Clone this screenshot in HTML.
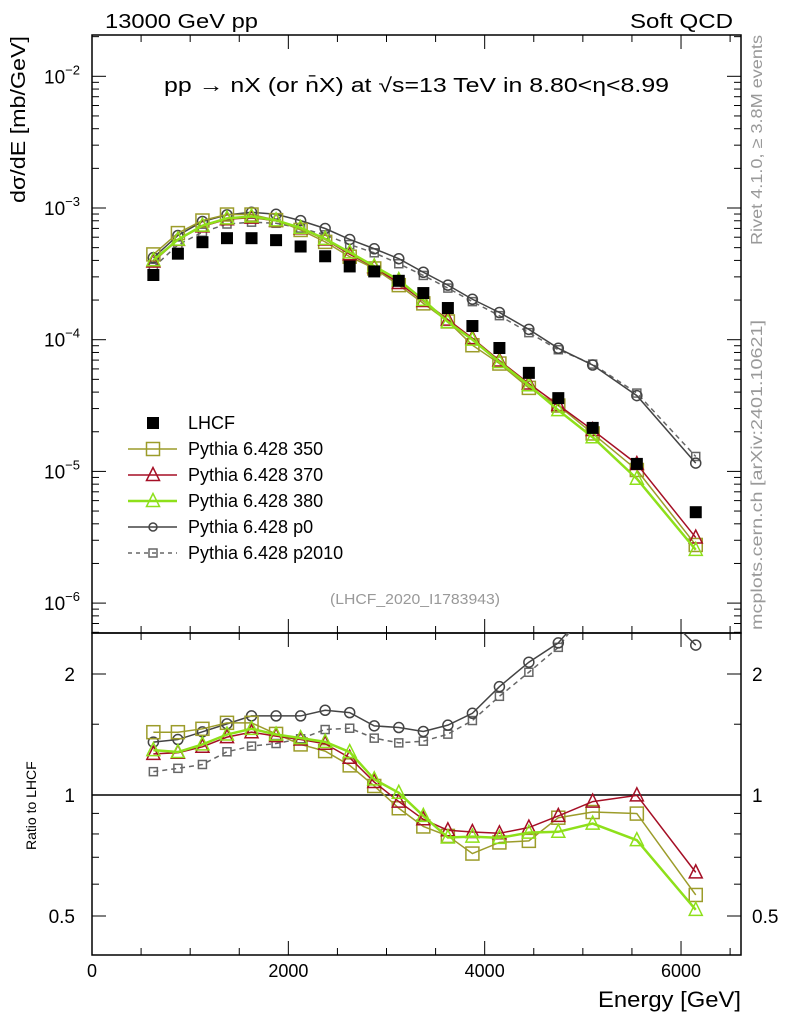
<!DOCTYPE html>
<html><head><meta charset="utf-8"><style>
html,body{margin:0;padding:0;background:#fff}
svg{display:block;font-family:"Liberation Sans",sans-serif}
</style></head><body>
<svg id="c" width="786" height="1024" viewBox="0 0 786 1024" xmlns="http://www.w3.org/2000/svg">
<defs>
<clipPath id="cm"><rect x="92" y="35" width="649" height="598"/></clipPath>
<clipPath id="cr"><rect x="92" y="633" width="649" height="322"/></clipPath>
</defs>
<text x="105" y="28" font-size="20" textLength="153" lengthAdjust="spacingAndGlyphs">13000 GeV pp</text>
<text x="630" y="28" font-size="20" textLength="103" lengthAdjust="spacingAndGlyphs">Soft QCD</text>
<text x="164" y="92" font-size="20" textLength="505" lengthAdjust="spacingAndGlyphs">pp → nX (or n̄X) at √s=13 TeV in 8.80&lt;η&lt;8.99</text>
<text transform="translate(762,245) rotate(-90)" font-size="16" fill="#999" textLength="210" lengthAdjust="spacingAndGlyphs">Rivet 4.1.0, ≥ 3.8M events</text>
<text transform="translate(762,630) rotate(-90)" font-size="16" fill="#999" textLength="310" lengthAdjust="spacingAndGlyphs">mcplots.cern.ch [arXiv:2401.10621]</text>
<text transform="translate(25,203) rotate(-90)" font-size="20" textLength="167" lengthAdjust="spacingAndGlyphs">dσ/dE [mb/GeV]</text>
<text transform="translate(36,850) rotate(-90)" font-size="14">Ratio to LHCF</text>
<text x="598" y="1007" font-size="22" textLength="143" lengthAdjust="spacingAndGlyphs">Energy [GeV]</text>
<text x="330" y="604" font-size="15" fill="#999" textLength="170" lengthAdjust="spacingAndGlyphs">(LHCF_2020_I1783943)</text>
<g id="g"></g>
</svg>
<script>
const energies=[625,875,1125,1375,1625,1875,2125,2375,2625,2875,3125,3375,3625,3875,4150,4450,4750,5100,5550,6150];
const lhcf=[3.1e-4,4.5e-4,5.5e-4,5.9e-4,5.9e-4,5.7e-4,5.1e-4,4.3e-4,3.6e-4,3.3e-4,2.8e-4,2.26e-4,1.74e-4,1.27e-4,8.65e-5,5.6e-5,3.6e-5,2.14e-5,1.14e-5,4.9e-6];
const ratio350=[1.433,1.433,1.461,1.512,1.512,1.419,1.336,1.286,1.185,1.053,0.927,0.835,0.791,0.715,0.762,0.769,0.878,0.907,0.899,0.564];
const ratio370=[1.266,1.274,1.318,1.393,1.433,1.401,1.374,1.341,1.238,1.077,0.963,0.87,0.817,0.809,0.803,0.83,0.887,0.963,0.998,0.642];
const ratio380=[1.293,1.279,1.336,1.414,1.461,1.414,1.385,1.356,1.279,1.094,1.013,0.887,0.784,0.788,0.782,0.806,0.81,0.849,0.772,0.518];
const ratioP0=[1.354,1.374,1.436,1.503,1.573,1.573,1.573,1.625,1.603,1.486,1.472,1.439,1.492,1.597,1.86,2.14,2.39,3.0,3.3,2.36];
const ratioP2010=[1.143,1.165,1.191,1.281,1.323,1.343,1.38,1.455,1.466,1.385,1.348,1.361,1.417,1.532,1.76,2.02,2.33,3.05,3.45,2.65];
const xTicks=[0,2000,4000,6000];
const yMainTicks=[-2,-3,-4,-5,-6];
const yRatioTicks=[2,1,0.5];

const NS='http://www.w3.org/2000/svg';
const G=document.getElementById('g');
const X0=92,X1=741,MT=35,MB=633,RB=955;
const xs=e=>X0+e*0.09817;
const ys=v=>208-(Math.log10(v)+3)*131.7;
const yr=r=>795-Math.log2(r)*121;
function el(t,a,p){const e=document.createElementNS(NS,t);for(const k in a)e.setAttribute(k,a[k]);(p||G).appendChild(e);return e;}

let f=el('rect',{x:X0,y:MT,width:X1-X0,height:MB-MT,fill:'none',stroke:'#000','stroke-width':1.5});


f=el('rect',{x:X0,y:MB,width:X1-X0,height:RB-MB,fill:'none',stroke:'#000','stroke-width':1.5});


for(let e=0;e<=6500;e+=500){const x=xs(e),L=e%2000===0?14:7;
 el('line',{x1:x,x2:x,y1:MT,y2:MT+L,stroke:'#000'});el('line',{x1:x,x2:x,y1:MB,y2:MB-L,stroke:'#000'});
 el('line',{x1:x,x2:x,y1:MB,y2:MB+L,stroke:'#000'});el('line',{x1:x,x2:x,y1:RB,y2:RB-L,stroke:'#000'});}
xTicks.forEach(t=>{const tx=el('text',{x:xs(t),y:977,'font-size':18,'text-anchor':'middle'});tx.textContent=t;
 
 });
for(let d=-7;d<=-1;d++)for(let m=1;m<10;m++){const v=m*Math.pow(10,d),y=ys(v);if(y<MT||y>MB)continue;const L=m===1?14:7;
 el('line',{x1:X0,x2:X0+L,y1:y,y2:y,stroke:'#000'});el('line',{x1:X1,x2:X1-L,y1:y,y2:y,stroke:'#000'});}
yMainTicks.forEach(d=>{const tx=el('text',{x:80,y:ys(Math.pow(10,d))+7,'font-size':19,'text-anchor':'end'});
 tx.textContent='10';const s=el('tspan',{dy:-9,'font-size':13},tx);s.textContent=String(d).replace('-','−');
 
 });
[0.5,0.6,0.7,0.8,0.9,1,1.5,2].forEach(r=>{const y=yr(r),L=(r===1||r===2||r===0.5)?14:7;
 el('line',{x1:X0,x2:X0+L,y1:y,y2:y,stroke:'#000'});el('line',{x1:X1,x2:X1-L,y1:y,y2:y,stroke:'#000'});});
yRatioTicks.forEach(r=>{[[75,'end'],[752,'start']].forEach(([x,a])=>{const tx=el('text',{x:x,y:yr(r)+7,'font-size':19,'text-anchor':a});tx.textContent=r;
 
 });});
el('line',{x1:X0,x2:X1,y1:yr(1),y2:yr(1),stroke:'#000','stroke-width':1.5});

const gm=el('g',{'clip-path':'url(#cm)'}),gr=el('g',{'clip-path':'url(#cr)'});
function marker(p,type,x,y,c,sz){
 if(type==='sq')return el('rect',{x:x-sz,y:y-sz,width:2*sz,height:2*sz,fill:'none',stroke:c,'stroke-width':1.5},p);
 if(type==='tri')return el('polygon',{points:`${x},${y-sz-1} ${x-sz},${y+sz-1} ${x+sz},${y+sz-1}`,fill:'none',stroke:c,'stroke-width':1.5},p);
 if(type==='circ')return el('circle',{cx:x,cy:y,r:sz,fill:'none',stroke:c,'stroke-width':1.5},p);
 return el('rect',{x:x-sz,y:y-sz,width:2*sz,height:2*sz,fill:c},p);
}
const series=[
 {name:'pythia-p2010',r:ratioP2010,c:'#666',w:1.5,dash:'5,4',m:'sq',s:4},
 {name:'pythia-p0',r:ratioP0,c:'#444',w:1.5,dash:null,m:'circ',s:5},
 {name:'pythia-350',r:ratio350,c:'#9c9c2a',w:1.5,dash:null,m:'sq',s:6.5},
 {name:'pythia-370',r:ratio370,c:'#a50f25',w:1.5,dash:null,m:'tri',s:6.5},
 {name:'pythia-380',r:ratio380,c:'#8ee01a',w:2.5,dash:null,m:'tri',s:6.5},
];
series.forEach(S=>{
 [[gm,(i)=>ys(lhcf[i]*S.r[i]),'main'],[gr,(i)=>yr(S.r[i]),'ratio']].forEach(([p,fy,pn])=>{
  const pts=energies.map((e,i)=>xs(e)+','+fy(i)).join(' ');
  const pl=el('polyline',{points:pts,fill:'none',stroke:S.c,'stroke-width':S.w},p);
  if(S.dash)pl.setAttribute('stroke-dasharray',S.dash);
  
  
  energies.forEach((e,i)=>{const mk=marker(p,S.m,xs(e),fy(i),S.c,S.s);
   
   });
 });
});
energies.forEach((e,i)=>{const mk=marker(gm,'fill',xs(e),ys(lhcf[i]),'#000',6);
 
 });
const leg=[['LHCF','fill','#000',null,1,6],['Pythia 6.428 350','sq','#9c9c2a',null,1.5,6.5],['Pythia 6.428 370','tri','#a50f25',null,1.5,6.5],['Pythia 6.428 380','tri','#8ee01a',null,2.5,6.5],['Pythia 6.428 p0','circ','#444',null,1.5,4],['Pythia 6.428 p2010','sq','#666','4,4',1.5,4]];
leg.forEach((L,i)=>{const y=423+i*26;const g=el('g',{});
 
 
 if(i>0){const ln=el('line',{x1:128,x2:177,y1:y,y2:y,stroke:L[2],'stroke-width':L[4]},g);if(L[3])ln.setAttribute('stroke-dasharray',L[3]);}
 marker(g,L[1],153,y,L[2],L[5]);
 const t=el('text',{x:188,y:y+6,'font-size':18},g);t.textContent=L[0];});
</script>
</body></html>
